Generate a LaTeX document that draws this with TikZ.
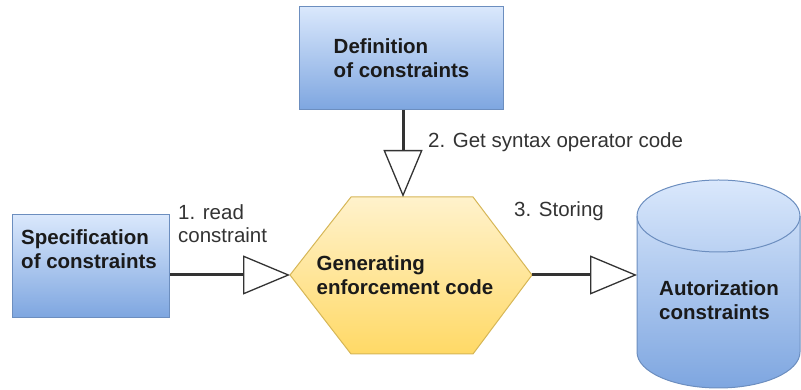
\documentclass[tikz,border=0pt]{standalone}
\usepackage{fontspec}
\setmainfont{Liberation Sans}
\usetikzlibrary{arrows.meta}
\definecolor{bluetop}{HTML}{DAE8FC}
\definecolor{bluebot}{HTML}{7EA6E0}
\definecolor{blueborder}{HTML}{6C8EBF}
\definecolor{yeltop}{HTML}{FFF2CC}
\definecolor{yelbot}{HTML}{FFD966}
\definecolor{yelborder}{HTML}{D6B656}
\definecolor{linegray}{HTML}{333333}
\definecolor{labelgray}{HTML}{333333}
\definecolor{textdark}{HTML}{1A1A1A}
\begin{document}
\begin{tikzpicture}[x=1pt,y=1pt,
  box/.style={draw=blueborder, line width=1pt, top color=bluetop, bottom color=bluebot, inner sep=0pt, anchor=south west},
  lbl/.style={text=labelgray, font=\fontsize{20.5}{23}\selectfont, align=left, inner sep=0pt, anchor=west},
  btxt/.style={text=textdark, font=\bfseries\fontsize{20.5}{24}\selectfont, align=left, inner sep=0pt},
  conn/.style={draw=linegray, line width=3pt, -{Triangle[length=47pt, width=39pt, line width=1.3pt, fill=white]}}
]
\useasboundingbox (0,0) rectangle (801,390);

% Definition of constraints
\node[box, minimum width=204pt, minimum height=103pt] (def) at (299,280) {};
\node[btxt] (deft) at (def.center) {Definition\\of constraints};

% Specification of constraints
\node[box, minimum width=157pt, minimum height=103pt] (spec) at (12,72) {};
\node[btxt] (spect) at (89,141) {Specification\\of constraints};

% Hexagon
\coordinate (hexW) at (290,115);
\coordinate (hexE) at (532,115);
\coordinate (hexN) at (403,193);
\shade[top color=yeltop, bottom color=yelbot, draw=yelborder, line width=1pt]
  (hexW) -- (351,193) -- (473,193) -- (hexE) -- (473,36) -- (351,36) -- cycle;
\node[btxt] (hext) at (405,115) {Generating\\enforcement code};

% Cylinder
\coordinate (cylW) at (637,115);
\shade[top color=bluetop, bottom color=bluebot, draw=blueborder, line width=1pt]
  (637,174) -- (637,38) arc[start angle=180, end angle=360, x radius=81.5, y radius=36]
  -- (800,174) arc[start angle=0, end angle=180, x radius=81.5, y radius=36] -- cycle;
\draw[blueborder, line width=1pt] (637,174) arc[start angle=180, end angle=360, x radius=81.5, y radius=36];
\node[btxt] (cylt) at (719,90) {Autorization\\constraints};

% Connectors
\draw[conn] (spec.east |- hexW) -- (hexW);
\draw[conn] (def.south -| hexN) -- (hexN);
\draw[conn] (hexE) -- (cylW);

% Labels
\node[lbl] (l1) at (178,166.5) {1. read\\constraint};
\node[lbl] (l2) at (428,248) {2. Get syntax operator code};
\node[lbl] (l3) at (514,179) {3. Storing};
\end{tikzpicture}
\end{document}
